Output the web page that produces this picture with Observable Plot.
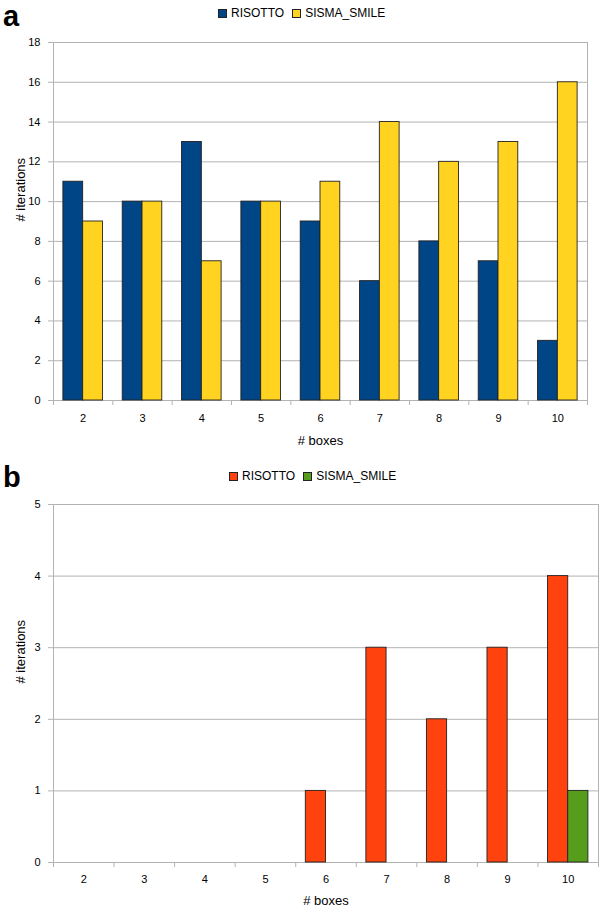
<!DOCTYPE html>
<html>
<head>
<meta charset="utf-8">
<script src="https://cdn.jsdelivr.net/npm/d3@7"></script>
<script src="https://cdn.jsdelivr.net/npm/@observablehq/plot@0.6"></script>
<style>
  html, body { margin: 0; padding: 0; background: #fff; }
  #root { position: relative; width: 600px; height: 907px; font-family: "Liberation Sans", Arial, sans-serif; overflow: hidden; }
  .panel-letter { position: absolute; font-weight: bold; font-size: 29px; line-height: 1; color: #000; }
  .legend { position: absolute; display: flex; align-items: center; font-size: 12px; color: #000; white-space: nowrap; }
  .legend .sw { display: inline-block; width: 7px; height: 7px; border: 1px solid #222; margin-right: 4px; }
  .legend .item { display: inline-flex; align-items: center; margin-right: 8px; }
  .chart { position: absolute; left: 0; }
</style>
</head>
<body>
<div id="root"></div>
<script>
// ---- Data ----
const boxes = [2, 3, 4, 5, 6, 7, 8, 9, 10];
const seriesNames = ["RISOTTO", "SISMA_SMILE"];

const risottoA = [11, 10, 13, 10, 9, 6, 8, 7, 3];
const sismaA   = [9, 10, 7, 10, 11, 14, 12, 13, 16];

const risottoB = [0, 0, 0, 0, 1, 3, 2, 3, 4];
const sismaB   = [0, 0, 0, 0, 0, 0, 0, 0, 1];

const yTicksA = [0, 2, 4, 6, 8, 10, 12, 14, 16, 18];
const yTicksB = [0, 1, 2, 3, 4, 5];

const colorsA = ["#004586", "#ffd320"];
const colorsB = ["#ff420e", "#579d1c"];

// ---- Helpers ----
const root = document.getElementById("root");

function rows(r, s) {
  const out = [];
  boxes.forEach((b, i) => {
    out.push({box: b, series: seriesNames[0], value: r[i]});
    out.push({box: b, series: seriesNames[1], value: s[i]});
  });
  return out.filter(d => d.value > 0);
}

const barW = 1 / 3; // fraction of category step for each bar
const boundaries = d3.range(1.5, 11, 1);

function makeChart({data, yTicks, yMax, colors, height, marginTop, marginBottom, marginRight, tickPad, labelDy}) {
  return Plot.plot({
    width: 600,
    height,
    marginLeft: 53,
    marginRight,
    marginTop,
    marginBottom,
    style: {fontFamily: "'Liberation Sans', Arial, sans-serif", fontSize: "11px", color: "#000", background: "#fff"},
    x: {type: "linear", domain: [1.5, 10.5], axis: null},
    y: {domain: [0, yMax], axis: null},
    color: {domain: seriesNames, range: colors},
    marks: [
      Plot.gridY(yTicks, {stroke: "#b3b3b3", strokeOpacity: 1}),
      Plot.frame({stroke: "#b3b3b3"}),
      Plot.axisY({ticks: yTicks, tickSize: 5, tickPadding: 8, stroke: "#b3b3b3", tickFormat: d => String(d), fontSize: 11, label: null}),
      Plot.ruleX(boundaries, {x: d => d, y1: 0, y2: 0, insetBottom: -5, stroke: "#b3b3b3"}),
      Plot.axisX({ticks: boxes, tickSize: 0, tickPadding: tickPad, tickFormat: d => String(d), fontSize: 11, label: null}),
      Plot.rectY(data, {
        x1: d => d.series === seriesNames[0] ? d.box - barW : d.box,
        x2: d => d.series === seriesNames[0] ? d.box : d.box + barW,
        y1: 0,
        y2: "value",
        fill: "series",
        stroke: "#222",
        strokeWidth: 0.9
      }),
      Plot.text(["# boxes"], {frameAnchor: "bottom", dy: labelDy, fontSize: 13, fill: "#000"}),
      Plot.text(["# iterations"], {frameAnchor: "left", dx: -33, rotate: -90, fontSize: 13, fill: "#000"})
    ]
  });
}

function legend(colors, left, top) {
  const div = document.createElement("div");
  div.className = "legend";
  div.style.left = left + "px";
  div.style.top = top + "px";
  seriesNames.forEach((name, i) => {
    const item = document.createElement("span");
    item.className = "item";
    const sw = document.createElement("span");
    sw.className = "sw";
    sw.style.background = colors[i];
    const t = document.createElement("span");
    t.textContent = name;
    item.appendChild(sw);
    item.appendChild(t);
    div.appendChild(item);
  });
  root.appendChild(div);
}

function letter(txt, top) {
  const d = document.createElement("div");
  d.className = "panel-letter";
  d.textContent = txt;
  d.style.left = "3px";
  d.style.top = top + "px";
  root.appendChild(d);
}

// ---- Panel a ----
letter("a", 2);
legend(colorsA, 218, 6);
const chartA = makeChart({
  data: rows(risottoA, sismaA), yTicks: yTicksA, yMax: 18, colors: colorsA,
  height: 440, marginTop: 12, marginBottom: 70, marginRight: 13, tickPad: 14, labelDy: 44
});
chartA.classList.add("chart");
chartA.style.top = "30px";
root.appendChild(chartA);

// ---- Panel b ----
letter("b", 463);
legend(colorsB, 229, 469);
const chartB = makeChart({
  data: rows(risottoB, sismaB), yTicks: yTicksB, yMax: 5, colors: colorsB,
  height: 417, marginTop: 14, marginBottom: 45, marginRight: 2, tickPad: 13, labelDy: 42
});
chartB.classList.add("chart");
chartB.style.top = "490px";
root.appendChild(chartB);
</script>
</body>
</html>
